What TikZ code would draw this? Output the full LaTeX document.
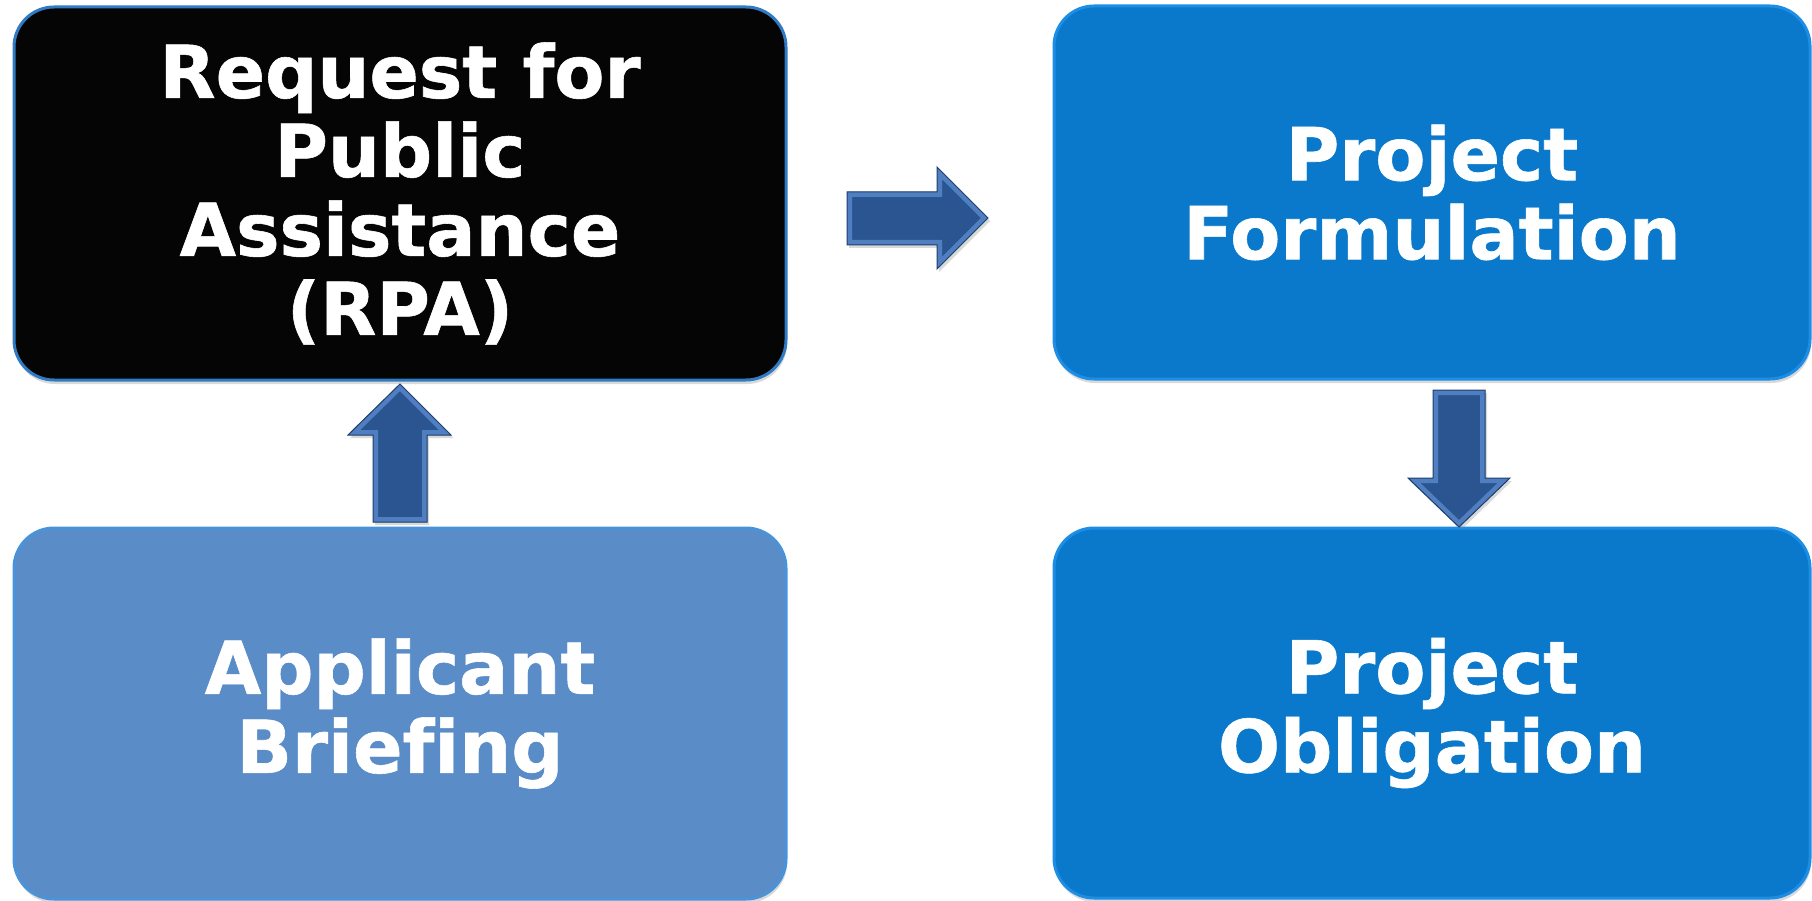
\documentclass[tikz,border=0pt]{standalone}
\usepackage{fontspec}
\setmainfont{DejaVu Sans}[Ligatures=CommonOff, BoldFeatures={FakeBold=0.8}]
\usetikzlibrary{calc,shadows}
\definecolor{boxblack}{HTML}{050505}
\definecolor{rimblue}{HTML}{2F7BC4}
\definecolor{lightbox}{HTML}{5A8CC8}
\definecolor{lightrim}{HTML}{4A93D8}
\definecolor{brightbox}{HTML}{0A79CC}
\definecolor{brightrim}{HTML}{1C8EE6}
\definecolor{arrowfill}{HTML}{2A5590}
\definecolor{arrowedge}{HTML}{1E3E6C}
\definecolor{arrowlight}{HTML}{4F7FC0}
\begin{document}
\begin{tikzpicture}[x=1pt,y=-1pt,
  stepbox/.style={rounded corners=40pt, inner sep=0pt, outer sep=0pt,
    line width=3pt, text=white, align=center,
    font=\fontsize{73}{79}\selectfont\bfseries,
    drop shadow={shadow xshift=1pt, shadow yshift=-4pt, opacity=0.3}},
  arrowbody/.style={fill=arrowfill,
    drop shadow={shadow xshift=2pt, shadow yshift=-3pt, opacity=0.3}},
  arrowrim/.style={draw=arrowlight, line width=10pt},
  arrowline/.style={draw=arrowedge, line width=1pt, line join=miter}]
\useasboundingbox (0,0) rectangle (1812,901);

\node[stepbox, fill=boxblack, draw=rimblue, minimum width=772pt, minimum height=373pt]
  (rpa) at (400,193.5) {Request for\\Public\\Assistance\\(RPA)};
\node[stepbox, fill=lightbox, draw=lightrim, minimum width=772pt, minimum height=371pt]
  (brief) at (400,713.5) {Applicant\\Briefing};
\node[stepbox, fill=brightbox, draw=brightrim, minimum width=756pt, minimum height=373pt]
  (form) at (1432,192.5) {Project\\Formulation};
\node[stepbox, fill=brightbox, draw=brightrim, minimum width=756pt, minimum height=370pt]
  (oblig) at (1432,713) {Project\\Obligation};

% up arrow: Applicant Briefing -> RPA
\def\uparrowpath{($(brief.north)+(-27,-6)$) -- ++(0,-87) -- ++(-25,0) -- ++(52,-51) -- ++(51,51) -- ++(-24,0) -- ++(0,87) -- cycle}
\path[arrowbody] \uparrowpath;
\begin{scope}\clip \uparrowpath; \draw[arrowrim] \uparrowpath;
\fill[arrowfill] ($(brief.north)+(-21,-11)$) rectangle ($(brief.north)+(21,-100)$);
\end{scope}
\draw[arrowline] \uparrowpath;

% right arrow: RPA -> Project Formulation
\def\rightarrowpath{($(rpa.east)+(61,-1.5)$) -- ++(90,0) -- ++(0,-25) -- ++(51,51) -- ++(-51,51) -- ++(0,-24) -- ++(-90,0) -- cycle}
\path[arrowbody] \rightarrowpath;
\begin{scope}\clip \rightarrowpath; \draw[arrowrim] \rightarrowpath;
\fill[arrowfill] ($(rpa.east)+(67,4.5)$) rectangle ($(rpa.east)+(160,46)$);
\end{scope}
\draw[arrowline] \rightarrowpath;

% down arrow: Project Formulation -> Project Obligation
\def\downarrowpath{($(form.south)+(1,11)$) -- ++(52,0) -- ++(0,88) -- ++(25,0) -- ++(-51,49) -- ++(-51,-49) -- ++(25,0) -- cycle}
\path[arrowbody] \downarrowpath;
\begin{scope}\clip \downarrowpath; \draw[arrowrim] \downarrowpath;
\fill[arrowfill] ($(form.south)+(7,17)$) rectangle ($(form.south)+(47,110)$);
\end{scope}
\draw[arrowline] \downarrowpath;
\end{tikzpicture}
\end{document}
